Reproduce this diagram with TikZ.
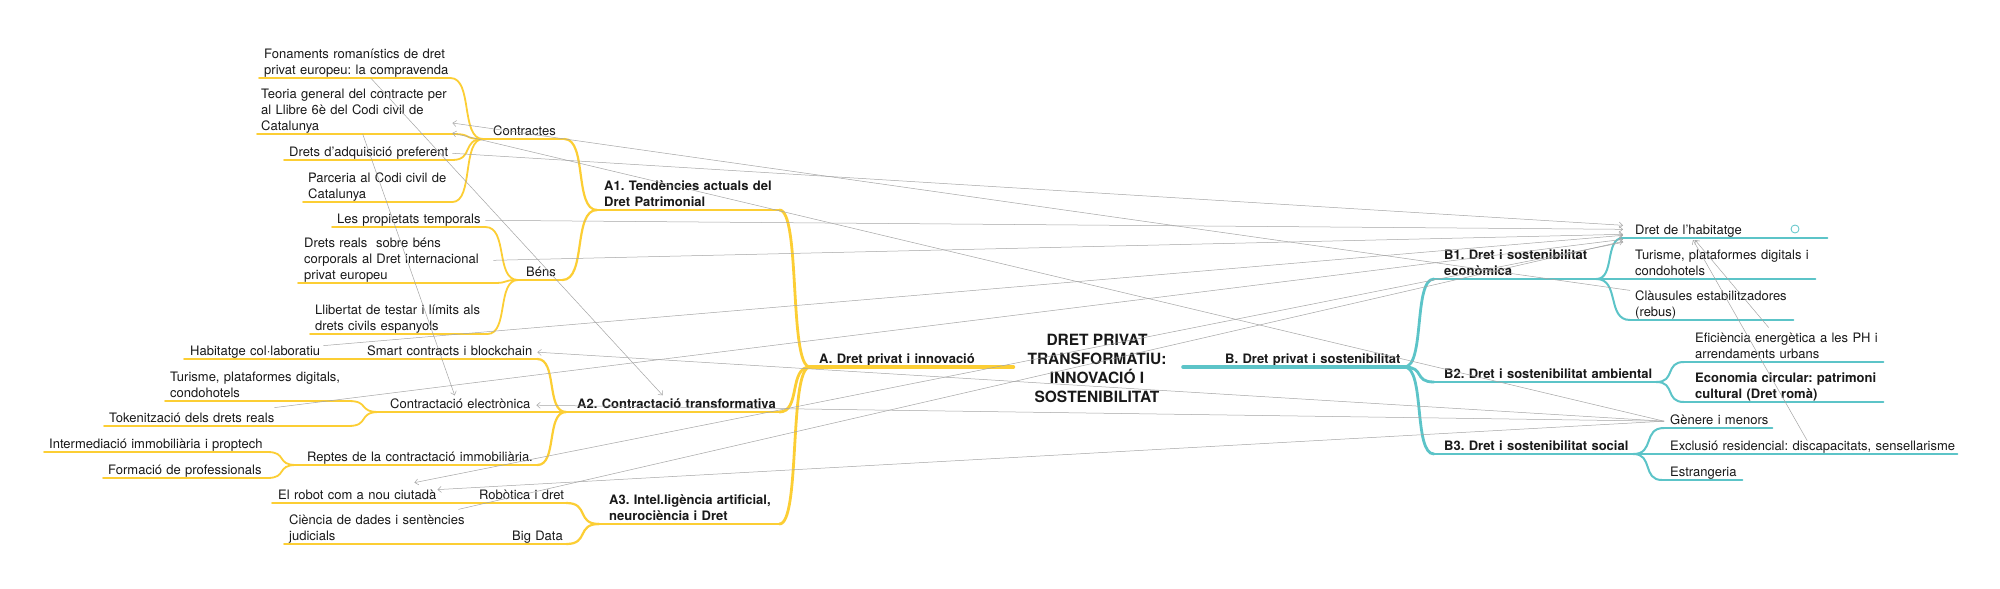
\documentclass[tikz,border=0pt]{standalone}
\usepackage{fontspec}
\setmainfont{TeX Gyre Heros}
\usepackage{tikz}
\usetikzlibrary{arrows.meta, calc}

\definecolor{mapyellow}{RGB}{252,206,52}
\definecolor{mapteal}{RGB}{92,196,200}
\definecolor{linkgray}{RGB}{165,165,165}

\begin{document}
\begin{tikzpicture}[
    x=1pt, y=-1pt,
    every node/.style={font=\fontsize{13}{16}\selectfont, inner ysep=0pt, text=black!90},
    item/.style={anchor=south west, inner xsep=0pt, align=left, text width=#1, ind=5pt,
        execute at end node={\rule[-3.5pt]{0pt}{1pt}}},
    ind/.style={execute at begin node={\leftskip=#1\rightskip=0pt plus 1fil minus 30pt\frenchspacing\hyphenpenalty=10000\relax}},
    hd/.style={font=\fontsize{13}{16}\selectfont\bfseries},
    ybig/.style={draw=mapyellow, line width=3.6pt, line cap=round},
    ymid/.style={draw=mapyellow, line width=2.8pt, line cap=round},
    ysub/.style={draw=mapyellow, line width=2.2pt, line cap=round},
    yleaf/.style={draw=mapyellow, line width=1.8pt, line cap=round},
    tbig/.style={draw=mapteal, line width=3.6pt, line cap=round},
    tmid/.style={draw=mapteal, line width=2.8pt, line cap=round},
    tleaf/.style={draw=mapteal, line width=2pt, line cap=round},
    limb/.style={to path={.. controls ($(\tikztostart)!0.7!(\tikztostart -| \tikztotarget)$) and ($(\tikztotarget)!0.7!(\tikztotarget -| \tikztostart)$) .. (\tikztotarget)}},
    link/.style={draw=linkgray, line width=0.5pt},
    tip/.style={-{Straight Barb[length=3.5pt,width=6pt]}}
]

\fill[white] (0,0) rectangle (2000,589);
\useasboundingbox (0,0) rectangle (2000,589);

% Root
\node (root) [font=\fontsize{15.5}{19}\selectfont\bfseries, align=center] at (1097,368) {DRET PRIVAT\\TRANSFORMATIU:\\INNOVACIÓ I\\SOSTENIBILITAT};

% Branch A
\node (aa) [item=203pt, ind=9pt, hd] at (810,367) {A. Dret privat i innovació};
\node (a1) [item=182pt, ind=7pt, hd] at (597,210) {A1. Tendències actuals del\\Dret Patrimonial};
\node (a2) [item=213pt, ind=11pt, hd] at (566,412) {A2. Contractació transformativa};
\node (a3) [item=180pt, ind=10pt, hd] at (599,524) {A3. Intel.ligència artificial,\\neurociència i Dret};

\node (con) [item=81pt, ind=10pt] at (483,139) {Contractes};
\node (ben) [item=44pt, ind=8pt] at (518,280) {Béns};
\node (smt) [item=182pt, ind=12pt] at (355,359) {Smart contracts i blockchain};
\node (cel) [item=187pt, ind=11pt] at (379,412) {Contractació electrònica};
\node (rep) [item=241pt, ind=11pt] at (296,465) {Reptes de la contractació immobiliària.};
\node (rbt) [item=96pt, ind=9pt] at (470,503) {Robòtica i dret};
\node (big) [item=61pt, ind=7pt] at (505,544) {Big Data};

\node (fon) [item=191pt] at (259,78) {Fonaments romanístics de dret\\privat europeu: la compravenda};
\node (teo) [item=195pt, ind=4pt] at (257,134) {Teoria general del contracte per\\al Llibre 6è del Codi civil de\\Catalunya};
\node (dap) [item=168pt] at (284,160) {Drets d’adquisició preferent};
\node (par) [item=149pt] at (303,202) {Parceria al Codi civil de\\Catalunya};
\node (pro) [item=153pt] at (332,227) {Les propietats temporals};
\node (dre) [item=195pt, ind=6pt] at (298,283) {Drets reals\ \ sobre béns\\corporals al Dret internacional\\privat europeu};
\node (lli) [item=177pt] at (310,334) {Llibertat de testar i límits als\\drets civils espanyols};
\node (hab) [item=171pt, ind=6pt] at (184,359) {Habitatge col·laboratiu};
\node (tur) [item=183pt] at (165,401) {Turisme, plataformes digitals,\\condohotels};
\node (tok) [item=244pt] at (104,426) {Tokenització dels drets reals};
\node (int) [item=223pt] at (44,452) {Intermediació immobiliària i proptech};
\node (frm) [item=164pt] at (103,478) {Formació de professionals};
\node (rob) [item=198pt, ind=6pt] at (272,503) {El robot com a nou ciutadà};
\node (cie) [item=221pt] at (284,544) {Ciència de dades i sentències\\judicials};

% Branch B
\node (bb) [item=221pt, ind=42pt, hd] at (1183,367) {B. Dret privat i sostenibilitat};
\node (b1) [item=162pt, ind=10pt, hd] at (1434,279) {B1. Dret i sostenibilitat\\econòmica};
\node (b2) [item=222pt, ind=10pt, hd] at (1434,382) {B2. Dret i sostenibilitat ambiental};
\node (b3) [item=199pt, ind=10pt, hd] at (1434,454) {B3. Dret i sostenibilitat social};

\node (hbt) [item=204pt, ind=12pt] at (1623,238) {Dret de l’habitatge};
\node (tui) [item=219pt, ind=39pt] at (1596,279) {Turisme, plataformes digitals i\\condohotels};
\node (cla) [item=163pt] at (1630,320) {Clàusules estabilitzadores\\(rebus)};
\node (efi) [item=199pt, ind=11pt] at (1684,362) {Eficiència energètica a les PH i\\arrendaments urbans};
\node (eco) [item=199pt, ind=11pt, hd] at (1684,402) {Economia circular: patrimoni\\cultural (Dret romà)};
\node (gen) [item=108pt, ind=6pt] at (1664,428) {Gènere i menors};
\node (exc) [item=324pt, ind=37pt] at (1633,454) {Exclusió residencial: discapacitats, sensellarisme};
\node (est) [item=80pt, ind=8pt] at (1662,480) {Estrangeria};

\node (dot) [circle, draw=mapteal, line width=0.8pt, minimum size=8pt, inner sep=0pt] at (1795,229) {};

% Underlines
\draw[ybig] (aa.south west) -- (aa.south east);
\foreach \n in {a1,a2,a3} \draw[ymid] (\n.south west) -- (\n.south east);
\foreach \n in {con,ben,smt,cel,rep,rbt,big} \draw[ysub] (\n.south west) -- (\n.south east);
\foreach \n in {fon,teo,dap,par,pro,dre,lli,hab,tur,tok,int,frm,rob,cie} \draw[yleaf] (\n.south west) -- (\n.south east);
\draw[tbig] (bb.south west) -- (bb.south east);
\foreach \n in {b1,b2,b3} \draw[tmid] (\n.south west) -- (\n.south east);
\foreach \n in {hbt,tui,cla,efi,eco,gen,exc,est} \draw[tleaf] (\n.south west) -- (\n.south east);

% Yellow branches
\foreach \n in {a1,a2,a3} \draw[ymid] (\n.south east) to[limb] (aa.south west);
\foreach \n in {con,ben} \draw[ysub] (\n.south east) to[limb] (a1.south west);
\foreach \n in {smt,rep} \draw[ysub] (\n.south east) to[limb] (a2.south west);
\foreach \n in {rbt,big} \draw[ysub] (\n.south east) to[limb] (a3.south west);
\foreach \n in {fon,teo,dap,par} \draw[yleaf] (\n.south east) to[limb] (con.south west);
\foreach \n in {pro,dre,lli} \draw[yleaf] (\n.south east) to[limb] (ben.south west);
\foreach \n in {tur,tok} \draw[yleaf] (\n.south east) to[limb] (cel.south west);
\foreach \n in {int,frm} \draw[yleaf] (\n.south east) to[limb] (rep.south west);

% Teal branches
\foreach \n in {b1,b2,b3} \draw[tmid] (bb.south east) to[limb] (\n.south west);
\foreach \n in {hbt,cla} \draw[tleaf] (b1.south east) to[limb] (\n.south west);
\foreach \n in {efi,eco} \draw[tleaf] (b2.south east) to[limb] (\n.south west);
\foreach \n in {gen,est} \draw[tleaf] (b3.south east) to[limb] (\n.south west);

% Cross links
\draw[link, tip] ([xshift=16pt]fon.south) -- ([xshift=-10pt,yshift=3pt]a2.north);
\draw[link, tip] ([xshift=8pt]teo.south) -- ([xshift=-18pt,yshift=3pt]cel.north);
\draw[link, tip] (cla.north west) -- ([yshift=11pt]teo.south east);
\draw[link, tip] (gen.west) -- ([yshift=1pt]teo.south east);
\draw[link, tip] (dap.east) -- ([yshift=6pt]hbt.west);
\draw[link, tip] (pro.east) -- ([yshift=2pt]hbt.west);
\draw[link, tip] (dre.east) -- ([yshift=-3pt]hbt.west);
\draw[link, tip] ([xshift=-32pt]hab.north east) -- ([yshift=-4pt]hbt.west);
\draw[link, tip] ([xshift=-74pt,yshift=5pt]tok.north east) -- ([yshift=-8pt]hbt.west);
\draw[link, tip] ([xshift=-47pt,yshift=5pt]cie.north east) -- ([yshift=-10pt]hbt.west);
\draw[link, tip] ([yshift=-11pt]hbt.west) -- ([xshift=-56pt,yshift=7pt]rob.north east);
\draw[link, tip] (gen.west) -- ([xshift=-33pt]rob.north east);
\draw[link, tip] (gen.west) -- (smt.east);
\draw[link, tip] (gen.west) -- ([xshift=-30pt]cel.east);
\draw[link, tip] ([xshift=-15pt,yshift=5pt]efi.north) -- ([xshift=72pt,yshift=-2pt]hbt.south west);
\draw[link, tip] ([xshift=12pt]exc.north) -- ([xshift=70pt,yshift=-2pt]hbt.south west);

\end{tikzpicture}
\end{document}
